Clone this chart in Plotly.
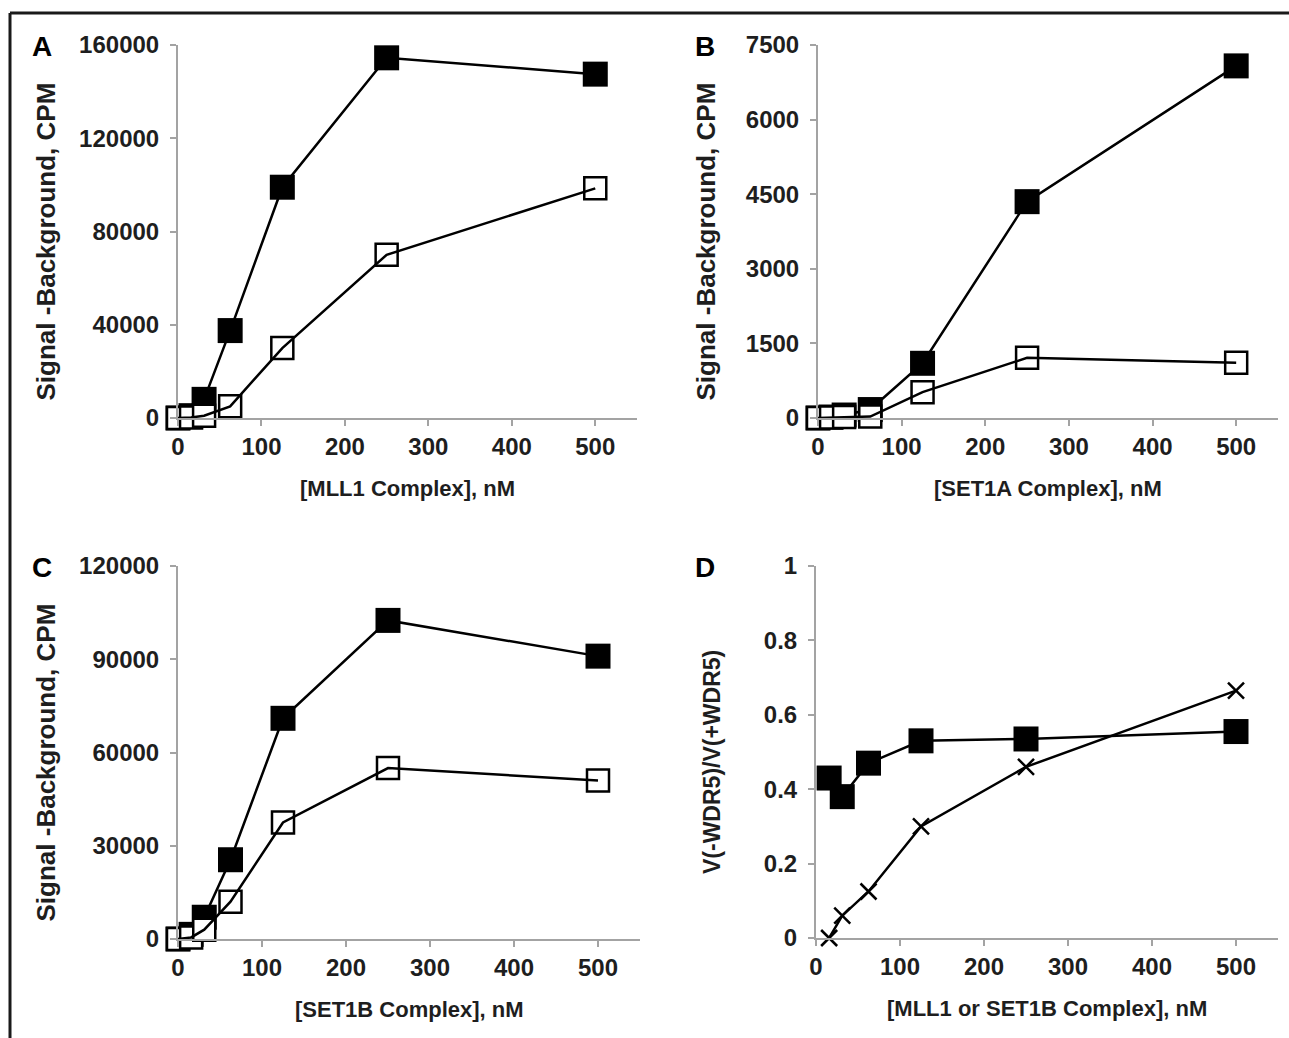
import plotly.graph_objects as go

W, H = 1289, 1038

# ---------------- data ----------------
conc = [0, 15.625, 31.25, 62.5, 125, 250, 500]

mll1_plus = [0, 1000, 8000, 37500, 99000, 154500, 147500]
mll1_minus = [0, 200, 1000, 5000, 30000, 70000, 98500]

set1a_plus = [0, 20, 60, 170, 1100, 4350, 7080]
set1a_minus = [0, 10, 20, 30, 520, 1210, 1110]

set1b_plus = [0, 1500, 7000, 25500, 71000, 102500, 91000]
set1b_minus = [0, 500, 3000, 12000, 37500, 55000, 51000]

ratio_conc = [15.625, 31.25, 62.5, 125, 250, 500]
ratio_mll1 = [0.43, 0.38, 0.47, 0.53, 0.535, 0.555]
ratio_set1b = [0.0, 0.06, 0.125, 0.30, 0.46, 0.665]

x_titles = ["[MLL1 Complex], nM", "[SET1A Complex], nM",
            "[SET1B Complex], nM", "[MLL1 or SET1B Complex], nM"]
y_titles = ["Signal -Background, CPM", "Signal -Background, CPM",
            "Signal -Background, CPM", "V(-WDR5)/V(+WDR5)"]
letters = ["A", "B", "C", "D"]

def fx(px):
    return px / W

def fy(py):
    return 1 - py / H

FONT = "Liberation Sans, Arial, Helvetica, sans-serif"
TXT = "#1e1e1e"
AX = "#a3a3a3"

# panel geometry in pixels: x0, x1, ybottom, ytop
panels = [
    (178, 637, 418, 45),
    (818, 1278, 418, 45),
    (178, 640, 939, 566),
    (816, 1278, 938, 566),
]
yranges = [(0, 160000, 40000), (0, 7500, 1500), (0, 120000, 30000), (0, 1, 0.2)]

fig = go.Figure()

def add_pair(idx, plus, minus):
    xa = "x" if idx == 0 else f"x{idx+1}"
    ya = "y" if idx == 0 else f"y{idx+1}"
    fig.add_trace(go.Scatter(
        x=conc, y=plus, mode="lines+markers", xaxis=xa, yaxis=ya,
        line=dict(color="black", width=2.5),
        marker=dict(symbol="square", size=25, color="black", line=dict(width=0)),
        cliponaxis=False, showlegend=False))
    fig.add_trace(go.Scatter(
        x=conc, y=minus, mode="markers", xaxis=xa, yaxis=ya,
        marker=dict(symbol="square", size=22, color="white",
                    line=dict(width=2.5, color="black")),
        cliponaxis=False, showlegend=False))
    fig.add_trace(go.Scatter(
        x=conc, y=minus, mode="lines", xaxis=xa, yaxis=ya,
        line=dict(color="black", width=2.5),
        cliponaxis=False, showlegend=False))

add_pair(0, mll1_plus, mll1_minus)
add_pair(1, set1a_plus, set1a_minus)
add_pair(2, set1b_plus, set1b_minus)

fig.add_trace(go.Scatter(
    x=ratio_conc, y=ratio_mll1, mode="lines+markers", xaxis="x4", yaxis="y4",
    line=dict(color="black", width=2.5),
    marker=dict(symbol="square", size=25, color="black", line=dict(width=0)),
    cliponaxis=False, showlegend=False))
fig.add_trace(go.Scatter(
    x=ratio_conc, y=ratio_set1b, mode="lines+markers", xaxis="x4", yaxis="y4",
    line=dict(color="black", width=2.5),
    marker=dict(symbol="x-thin-open", size=16, color="black",
                line=dict(width=2.5, color="black")),
    cliponaxis=False, showlegend=False))

layout = dict(
    width=W, height=H,
    margin=dict(l=0, r=0, t=0, b=0, pad=0, autoexpand=False),
    paper_bgcolor="white", plot_bgcolor="white",
    showlegend=False,
)

tickfont = dict(family=FONT, size=24, color=TXT, weight="bold")
annotations = []
for i, (x0, x1, yb, yt) in enumerate(panels):
    sx = "" if i == 0 else str(i + 1)
    ymin, ymax, dt = yranges[i]
    layout["xaxis" + sx] = dict(
        domain=[fx(x0), fx(x1)], range=[0, 550], anchor="y" + sx,
        tickmode="linear", tick0=0, dtick=100, automargin=False,
        showline=True, linecolor=AX, linewidth=2,
        ticks="outside", ticklen=6, tickwidth=2, tickcolor=AX,
        showgrid=False, zeroline=False, tickfont=tickfont,
        ticklabelstandoff=0, fixedrange=True)
    layout["yaxis" + sx] = dict(
        domain=[fy(yb), fy(yt)], range=[ymin, ymax], anchor="x" + sx,
        tickmode="linear", tick0=0, dtick=dt, automargin=False,
        tickformat=("d" if i < 3 else ""),
        showline=True, linecolor=AX, linewidth=2,
        ticks="outside", ticklen=6, tickwidth=2, tickcolor=AX,
        showgrid=False, zeroline=False, tickfont=tickfont,
        ticklabelstandoff=6, fixedrange=True)
    # x-axis title
    annotations.append(dict(
        text=x_titles[i], xref="paper", yref="paper",
        x=fx((x0 + x1) / 2), y=fy(yb + 70),
        xanchor="center", yanchor="middle", showarrow=False,
        font=dict(family=FONT, size=22, color=TXT, weight="bold")))
    # panel letter
    lx = 42 if i % 2 == 0 else 705
    ly = 47 if i < 2 else 567
    annotations.append(dict(
        text=letters[i], xref="paper", yref="paper",
        x=fx(lx), y=fy(ly), xanchor="center", yanchor="middle",
        showarrow=False,
        font=dict(family=FONT, size=28, color="black", weight="bold")))
    # y-axis title
    tx = 45 if i % 2 == 0 else 705
    if i == 3:
        tx = 712
    ty = (yb + yt) / 2 + 10
    annotations.append(dict(
        text=y_titles[i], xref="paper", yref="paper",
        x=fx(tx), y=fy(ty), xanchor="center", yanchor="middle",
        textangle=-90, showarrow=False,
        font=dict(family=FONT, size=(26 if i < 3 else 23), color=TXT,
                  weight="bold")))

layout["annotations"] = annotations
layout["shapes"] = [
    dict(type="line", xref="paper", yref="paper",
         x0=fx(10), x1=fx(W + 5), y0=fy(13), y1=fy(13),
         line=dict(color="#1a1a1a", width=3)),
    dict(type="line", xref="paper", yref="paper",
         x0=fx(10), x1=fx(10), y0=fy(13), y1=fy(H + 5),
         line=dict(color="#1a1a1a", width=3)),
]

fig.update_layout(**layout)
fig.write_html(
    "out.html",
    config={"displayModeBar": False},
    post_script="document.body.style.margin='0';"
                "document.body.style.overflow='hidden';")
